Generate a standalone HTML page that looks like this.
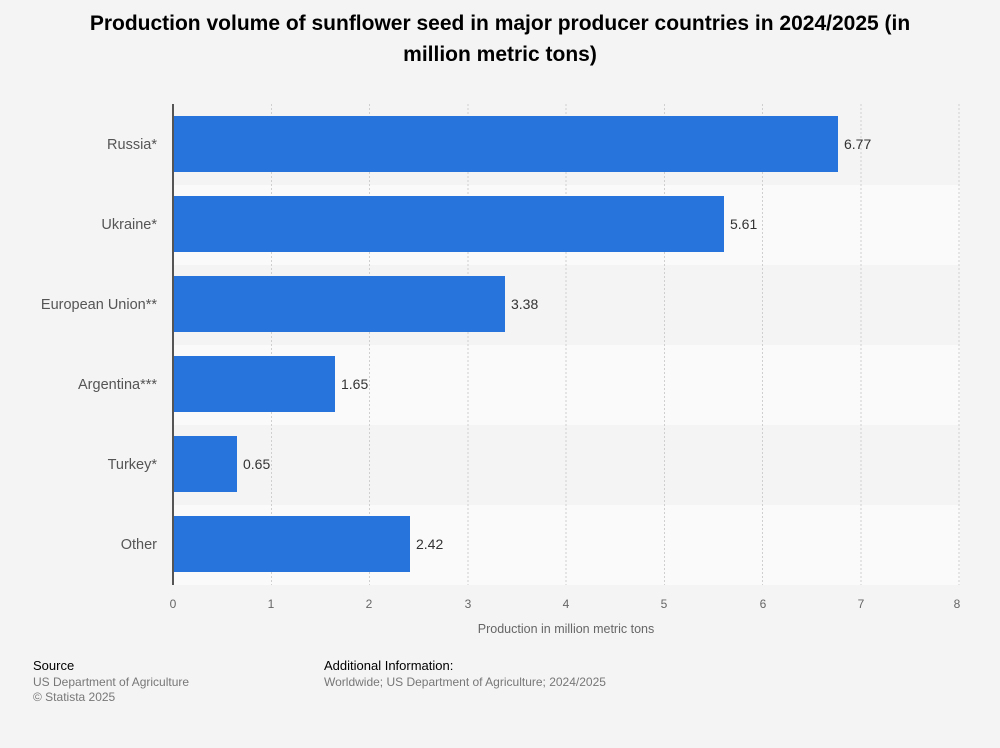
<!DOCTYPE html>
<html><head><meta charset="utf-8"><style>
body{margin:0;background:#f4f4f4;font-family:"Liberation Sans",Arial,sans-serif;}
</style></head><body>
<svg width="1000" height="743" xmlns="http://www.w3.org/2000/svg" font-family="Liberation Sans, Arial, sans-serif">
<rect width="1000" height="743" fill="#f4f4f4"/>
<text x="500" y="30" text-anchor="middle" font-size="21" font-weight="bold" fill="#000">Production volume of sunflower seed in major producer countries in 2024/2025 (in</text>
<text x="500" y="61" text-anchor="middle" font-size="21" font-weight="bold" fill="#000">million metric tons)</text>
<rect x="173" y="185" width="787" height="80" fill="#fafafa"/>
<rect x="173" y="345" width="787" height="80" fill="#fafafa"/>
<rect x="173" y="505" width="787" height="80" fill="#fafafa"/>
<g stroke="#cfcfcf" stroke-dasharray="2,2" stroke-width="1">
<line x1="271.5" y1="104" x2="271.5" y2="585"/><line x1="369.5" y1="104" x2="369.5" y2="585"/>
<line x1="468" y1="104" x2="468" y2="585"/><line x1="566" y1="104" x2="566" y2="585"/>
<line x1="664.5" y1="104" x2="664.5" y2="585"/><line x1="762.5" y1="104" x2="762.5" y2="585"/>
<line x1="861" y1="104" x2="861" y2="585"/><line x1="959" y1="104" x2="959" y2="585"/>
</g>
<g fill="#2775dc">
<rect x="173" y="116" width="665" height="56"/>
<rect x="173" y="196" width="551" height="56"/>
<rect x="173" y="276" width="332" height="56"/>
<rect x="173" y="356" width="162" height="56"/>
<rect x="173" y="436" width="64" height="56"/>
<rect x="173" y="516" width="237" height="56"/>
</g>
<line x1="173" y1="104" x2="173" y2="585" stroke="#555" stroke-width="2"/>
<g font-size="14" fill="#333">
<text x="844" y="149">6.77</text><text x="730" y="229">5.61</text><text x="511" y="309">3.38</text>
<text x="341" y="389">1.65</text><text x="243" y="469">0.65</text><text x="416" y="549">2.42</text>
</g>
<g font-size="14.5" fill="#555" text-anchor="end">
<text x="157" y="149">Russia*</text><text x="157" y="229">Ukraine*</text><text x="157" y="309">European Union**</text>
<text x="157" y="389">Argentina***</text><text x="157" y="469">Turkey*</text><text x="157" y="549">Other</text>
</g>
<g font-size="12" fill="#666" text-anchor="middle">
<text x="173" y="608">0</text><text x="271" y="608">1</text><text x="369" y="608">2</text><text x="468" y="608">3</text>
<text x="566" y="608">4</text><text x="664" y="608">5</text><text x="763" y="608">6</text><text x="861" y="608">7</text><text x="957" y="608">8</text>
<text x="566" y="633" font-size="12.5">Production in million metric tons</text>
</g>
<text x="33" y="670" font-size="13" fill="#000">Source</text>
<text x="33" y="686" font-size="12" fill="#777">US Department of Agriculture</text>
<text x="33" y="701" font-size="12" fill="#777">© Statista 2025</text>
<text x="324" y="670" font-size="13" fill="#000">Additional Information:</text>
<text x="324" y="686" font-size="12" fill="#777">Worldwide; US Department of Agriculture; 2024/2025</text>
</svg>
</body></html>
